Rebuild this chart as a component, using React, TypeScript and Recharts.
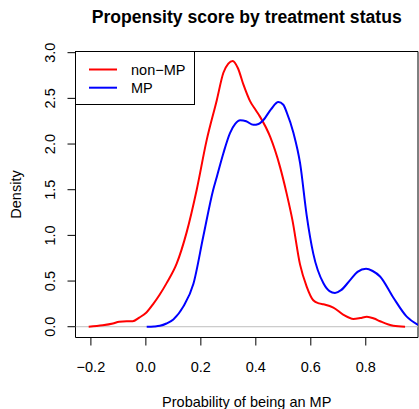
import React from "react";
import { LineChart, Line, XAxis, YAxis, ReferenceLine, ReferenceArea, Legend } from "recharts";

// ---- data ----
const SERIES_NAMES = ["non\u2212MP", "MP"];
const SERIES_COLORS = ["#ff0000", "#0000ff"];

const NON_MP_X = [-0.208, -0.157, -0.12, -0.097, -0.07, -0.048, -0.024, 0.0, 0.027, 0.05, 0.076, 0.112, 0.148, 0.185, 0.221, 0.258, 0.282, 0.3, 0.316, 0.335, 0.355, 0.379, 0.4, 0.415, 0.452, 0.488, 0.512, 0.533, 0.561, 0.585, 0.609, 0.63, 0.646, 0.682, 0.719, 0.755, 0.78, 0.804, 0.83, 0.852, 0.9, 0.943];
const NON_MP_Y = [0.0, 0.015, 0.035, 0.055, 0.06, 0.06, 0.1, 0.15, 0.25, 0.35, 0.48, 0.69, 1.03, 1.5, 2.04, 2.48, 2.78, 2.88, 2.91, 2.83, 2.65, 2.47, 2.37, 2.3, 2.08, 1.75, 1.46, 1.17, 0.68, 0.44, 0.29, 0.255, 0.245, 0.21, 0.13, 0.085, 0.095, 0.11, 0.09, 0.06, 0.01, 0.0];

const MP_X = [0.003, 0.03, 0.051, 0.075, 0.1, 0.136, 0.173, 0.209, 0.245, 0.258, 0.282, 0.306, 0.325, 0.343, 0.365, 0.391, 0.41, 0.427, 0.455, 0.482, 0.5, 0.512, 0.537, 0.561, 0.585, 0.609, 0.646, 0.668, 0.688, 0.71, 0.743, 0.77, 0.801, 0.825, 0.852, 0.9, 0.949, 0.99];
const MP_Y = [0.0, 0.003, 0.01, 0.035, 0.08, 0.22, 0.47, 0.99, 1.5, 1.64, 1.9, 2.12, 2.22, 2.26, 2.25, 2.21, 2.22, 2.26, 2.38, 2.46, 2.43, 2.35, 2.12, 1.79, 1.22, 0.8, 0.475, 0.39, 0.37, 0.4, 0.51, 0.6, 0.635, 0.61, 0.55, 0.32, 0.11, 0.02];

const X_TICKS = [-0.2, 0, 0.2, 0.4, 0.6, 0.8];
const Y_TICKS = [0, 0.5, 1, 1.5, 2, 2.5, 3];
const X_DOMAIN: [number, number] = [-0.256, 0.99];
const Y_DOMAIN: [number, number] = [-0.118, 3.013];

const TITLE = "Propensity score by treatment status";
const X_LABEL = "Probability of being an MP";
const Y_LABEL = "Density";

const nonMpData = NON_MP_X.map((x, i) => ({ x, y: NON_MP_Y[i] }));
const mpData = MP_X.map((x, i) => ({ x, y: MP_Y[i] }));

// ---- layout ----
const W = 419;
const H = 409;
const PLOT_LEFT = 75.5;
const PLOT_TOP = 51.5;
const PLOT_RIGHT = 418;
const PLOT_BOTTOM = 337.5;
const FONT = "'Liberation Sans', Arial, Helvetica, sans-serif";
const FS = 14.5;

const fmt = (v: number) => v.toFixed(1).replace("-", "\u2212");

const XTick = (props: any) => {
  const { x, payload } = props;
  return (
    <text x={x} y={371.5} textAnchor="middle" fontFamily={FONT} fontSize={FS} fill="#000">
      {fmt(payload.value)}
    </text>
  );
};

const YTick = (props: any) => {
  const { y, payload } = props;
  const bx = 55;
  return (
    <text x={bx} y={y} transform={`rotate(-90, ${bx}, ${y})`} textAnchor="middle" fontFamily={FONT} fontSize={FS} fill="#000">
      {fmt(payload.value)}
    </text>
  );
};

const LegendBox = () => (
  <div
    style={{
      position: "relative",
      width: 120,
      height: 54,
      boxSizing: "border-box",
      border: "1px solid #000",
      background: "#fff",
    }}
  >
    <svg width={118} height={52} style={{ display: "block" }}>
      {SERIES_NAMES.map((name, i) => {
        const cy = 17.5 + i * 18.2;
        return (
          <g key={name}>
            <line x1={13} x2={41} y1={cy} y2={cy} stroke={SERIES_COLORS[i]} strokeWidth={2} />
            <text x={55} y={cy + 5.2} fontFamily={FONT} fontSize={FS} fill="#000">
              {name}
            </text>
          </g>
        );
      })}
    </svg>
  </div>
);

export default function App() {
  return (
    <div style={{ position: "absolute", left: 0, top: 0, width: W, height: H, background: "#fff" }}>
      <LineChart
        width={W}
        height={H}
        margin={{ top: PLOT_TOP, right: W - PLOT_RIGHT, bottom: 0, left: 0 }}
      >
        <XAxis
          type="number"
          dataKey="x"
          domain={X_DOMAIN}
          ticks={X_TICKS}
          allowDataOverflow
          axisLine={false}
          tickLine={{ stroke: "#000", strokeWidth: 1 }}
          tickSize={8}
          height={H - PLOT_BOTTOM}
          tick={<XTick />}
          interval={0}
        />
        <YAxis
          type="number"
          domain={Y_DOMAIN}
          ticks={Y_TICKS}
          allowDataOverflow
          axisLine={false}
          tickLine={{ stroke: "#000", strokeWidth: 1 }}
          tickSize={8}
          width={PLOT_LEFT}
          tick={<YTick />}
          interval={0}
        />
        <ReferenceLine y={0} stroke="#bebebe" strokeWidth={1} ifOverflow="visible" />
        <Line
          data={nonMpData}
          dataKey="y"
          name={SERIES_NAMES[0]}
          type="monotone"
          stroke={SERIES_COLORS[0]}
          strokeWidth={2}
          dot={false}
          activeDot={false}
          isAnimationActive={false}
        />
        <Line
          data={mpData}
          dataKey="y"
          name={SERIES_NAMES[1]}
          type="monotone"
          stroke={SERIES_COLORS[1]}
          strokeWidth={2}
          dot={false}
          activeDot={false}
          isAnimationActive={false}
        />
        <ReferenceArea
          x1={X_DOMAIN[0]}
          x2={X_DOMAIN[1]}
          y1={Y_DOMAIN[0]}
          y2={Y_DOMAIN[1]}
          fill="none"
          fillOpacity={0}
          stroke="#000"
          strokeWidth={1}
          ifOverflow="visible"
        />
        <Legend
          layout="vertical"
          verticalAlign="middle"
          align="center"
          content={<LegendBox />}
          wrapperStyle={{ position: "absolute", left: 75, top: 51, width: 120, height: 54, margin: 0, padding: 0 }}
        />
        <text x={246.7} y={22.7} textAnchor="middle" fontFamily={FONT} fontSize={17.6} fontWeight="bold" fill="#000">
          {TITLE}
        </text>
        <text x={246.7} y={406.5} textAnchor="middle" fontFamily={FONT} fontSize={FS} fill="#000">
          {X_LABEL}
        </text>
        <text
          x={20.5}
          y={194.5}
          transform="rotate(-90, 20.5, 194.5)"
          textAnchor="middle"
          fontFamily={FONT}
          fontSize={FS}
          fill="#000"
        >
          {Y_LABEL}
        </text>
      </LineChart>
    </div>
  );
}
